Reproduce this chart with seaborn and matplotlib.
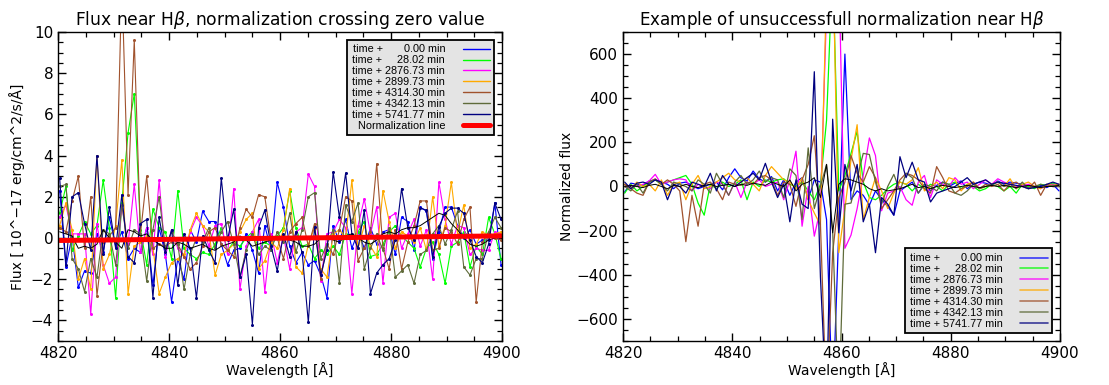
import numpy as np
import pandas as pd
import matplotlib
matplotlib.use("Agg")
import matplotlib.pyplot as plt
from matplotlib.lines import Line2D
from matplotlib.ticker import MultipleLocator
from matplotlib.font_manager import FontProperties
import seaborn as sns

# Spectral sampling (SDSS-like grid, ~1.12 A per pixel)
WL_START = 4820.3
WL_STEP = 1.12
N_PIX = 72

# Observation epochs (minutes after first exposure)
epochs = [0.00, 28.02, 2876.73, 2899.73, 4314.30, 4342.13, 5741.77]
colors = ["#0000ff", "#00ff00", "#ff00ff", "#ffaa00", "#a0522d", "#5f6b3a", "#00007f"]

# ---- Flux near H-beta (10^-17 erg/cm^2/s/A) ----
flux_e0 = [2.3, -1.4, 0.1, -2.4, -1.6, -1.7, 0.2, -0.7, 1.0, -0.4,
           0.3, -1.0, -0.5, -0.7, 0.5, -2.3, 0.5, -0.8, -3.1, -1.0,
           -2.0, 0.4, -0.2, 1.3, 0.8, 0.8, -0.3, -1.3, -0.6, -0.5,
           0.2, -0.6, -1.7, 0.6, -0.6, 2.7, 1.5, -0.4, -1.2, -0.7,
           -1.3, -1.1, -1.8, -2.9, 0.6, -0.2, 0.9, -0.5, 0.3, -0.5,
           0.5, -0.3, 0.3, 0.4, -0.8, 1.0, 0.8, -0.6, 1.5, 1.3,
           -1.0, 0.3, 1.5, 1.5, 0.6, 0.0, 0.4, -0.3, -0.1, -0.1,
           1.7, -1.3]
flux_e1 = [1.2, 2.5, -0.6, 0.1, 0.8, 0.2, 0.6, 2.8, 0.5, -2.9,
           1.7, 5.1, 7.0, 0.4, -1.3, 1.4, 0.5, 0.3, -1.0, 2.3,
           -0.5, -0.8, -1.0, -0.7, -0.8, -0.3, 0.5, -0.6, -0.2, -0.4,
           0.0, 0.3, -0.5, -0.2, -0.4, 0.1, 0.5, 2.3, 0.5, -0.4,
           -0.3, -1.0, -0.6, -0.8, -0.4, -0.8, 0.2, 0.0, 0.3, 0.8,
           -0.9, -0.8, -0.3, 0.3, 0.6, 0.1, -0.2, -0.5, -1.4, -0.5,
           -0.2, -0.8, -2.2, -0.4, -0.2, 0.3, -1.4, -0.4, -0.8, 1.0,
           0.2, -1.0]
flux_e2 = [1.0, 1.6, 0.2, 0.2, 0.2, -3.7, 0.7, -1.3, -2.2, -1.9,
           1.6, -0.3, 2.6, -0.7, 0.5, -0.8, 2.8, -0.9, 0.4, -0.5,
           -0.9, 0.3, 1.0, 0.6, -0.4, 0.6, 0.7, -0.8, 2.4, -2.5,
           -0.4, 0.3, 0.9, -2.6, 0.2, -1.2, 0.1, -1.5, 0.3, 0.5,
           3.1, 2.5, -2.1, 0.2, 0.3, 0.9, 0.5, -2.7, 0.6, 1.9,
           0.2, 1.5, -2.2, 1.0, 1.2, -0.5, 0.2, 0.9, -0.4, 0.4,
           -2.0, 2.7, 0.9, -0.3, 0.6, 0.5, -0.8, -0.5, -0.6, -0.6,
           0.3, 0.2]
flux_e3 = [0.6, 1.7, 0.4, -2.0, -1.0, -2.5, 4.0, -1.5, -0.8, 0.6,
           3.8, -2.7, -0.4, -0.2, 0.1, -0.5, -2.7, -1.9, -1.2, -1.0,
           -0.8, 0.4, 1.2, 0.6, 0.3, -1.8, -0.8, -0.6, -0.3, 0.3,
           0.9, 1.2, -1.5, -1.1, -0.2, -0.5, 0.4, 2.4, -1.4, -1.7,
           -0.3, 0.5, -1.5, -1.9, 0.2, 0.4, 0.0, 2.8, -0.5, 0.6,
           -0.4, -0.9, 2.3, 0.8, -0.5, 0.3, 0.1, -0.2, 0.5, -0.6,
           2.0, -0.4, 0.6, 2.7, 0.2, 1.6, -0.5, -0.3, 0.3, 0.1,
           0.2, 0.3]
flux_e4 = [0.5, 0.3, 1.8, 3.0, -0.5, 2.0, -2.8, -0.2, 0.1, 0.5,
           12.5, 2.1, 9.6, 0.2, 3.0, -0.5, -0.3, -0.4, -0.2, -0.3,
           -0.9, -1.5, -1.2, -0.4, 0.3, 0.5, -0.3, -0.6, -0.9, 0.5,
           1.4, 1.0, 2.1, 2.0, -0.1, 0.0, -1.0, 0.3, 0.7, 1.0,
           -0.4, 0.7, -2.0, -0.3, -0.8, 0.4, 2.0, 1.8, -1.1, -0.5,
           0.3, 3.6, -0.5, -1.5, 0.4, -1.5, -0.2, 0.6, 1.8, 1.8,
           -0.6, -0.5, 0.5, 0.3, -0.3, 0.9, 1.5, -3.1, -0.2, 0.3,
           0.0, -0.1]
flux_e5 = [2.5, 2.6, -1.0, -1.5, -2.6, -1.0, -1.9, 0.4, 0.2, -1.3,
           1.6, -0.5, 0.4, 0.2, -2.1, 0.4, 2.0, -0.5, 0.3, -0.3,
           -2.5, -0.8, 0.0, -0.2, 0.5, -0.5, 0.3, 0.8, -0.3, -1.9,
           -0.6, 0.2, -0.8, -0.4, -0.6, 0.3, -0.2, 1.2, -0.7, 0.4,
           2.0, 2.2, -1.0, -0.3, 0.4, -2.2, 1.6, 0.8, 1.7, -1.5,
           -0.5, 0.2, -0.6, 0.5, -1.9, -1.6, -1.3, -2.2, -0.8, -0.6,
           0.2, 0.6, -0.3, 0.4, 1.3, -1.4, -1.8, -1.0, -1.0, 0.3,
           1.0, 0.5]
flux_e6 = [2.9, -1.3, 2.0, 2.2, 0.7, -0.6, 4.0, -0.8, 1.5, -0.5,
           2.1, -0.9, -1.2, 0.7, 0.9, -2.9, 1.0, -0.7, 0.4, -2.3,
           0.2, -0.5, -2.9, 0.1, -0.6, -1.2, 2.9, -0.1, 1.4, -1.9,
           -0.8, -4.2, 0.5, 1.35, -0.4, -1.6, 0.2, -0.9, 0.3, -0.7,
           -4.1, 0.55, -1.8, -0.6, 3.2, 1.0, 3.15, 0.2, -0.5, 1.35,
           -2.7, -1.7, -1.3, -1.0, -0.1, 2.4, 0.5, -0.1, 1.45, 1.35,
           -0.9, 0.55, 1.2, 1.45, 1.45, 1.2, -0.1, -0.9, -1.2, -0.3,
           1.7, 0.9]
flux_mean = [0.3, 0.2, 0.1, -0.5, -0.4, -0.5, -0.3, 0.4, 0.0, -0.2,
             -0.5, 0.4, 0.3, 0.1, 0.2, -0.1, -0.3, -0.5, -0.5, -0.2,
             -0.3, -0.5, -0.4, -0.3, -0.5, -0.6, -0.4, -0.3, -0.2, 0.1,
             -0.1, -0.4, -0.3, -0.2, -0.1, 0.0, 0.1, -0.1, -0.2, -0.4,
             -0.4, -0.3, 0.0, 0.1, -0.1, -0.2, 0.1, 0.2, 0.0, -0.2,
             -0.3, -0.1, 0.2, 0.3, 0.2, 0.4, 0.5, 0.5, 0.6, 0.8,
             1.0, 1.2, 1.1, 0.7, 0.4, 0.0, -0.3, -0.4, -0.3, -0.1,
             0.0, 0.1]
# Normalization line end points
norm_wl = [4820.3, 4899.8]
norm_flux = [-0.12, 0.10]

# ---- Normalized flux near H-beta ----
norm_e0 = [-25, 15, 10, 5, 25, 30, 20, 10, -10, 15,
           20, 5, -10, 0, 10, 20, -15, 40, 80, 40,
           25, 70, 35, 20, 45, -20, 30, -40, 20, 40,
           -60, 30, 20, -150, -1000, -200, 600, -60, -20, -40,
           -85, -20, -60, -90, -130, -20, 0, 20, -30, 10,
           -20, 5, 20, 0, 15, 25, -10, 10, 20, 15,
           5, 25, 10, 20, 15, 10, -5, 0, 5, -5,
           10, -20]
norm_e1 = [-30, 10, -20, 0, 20, 30, 10, 20, 30, 40,
           50, 10, -75, -130, 10, -10, 20, 0, 10, 30,
           -60, 20, 0, 30, 20, 30, 35, 10, 0, 20,
           -20, -60, 10, 300, 1000, -20, 50, 150, 250, 20,
           -50, -60, -40, -10, 10, 20, 10, -20, 10, -10,
           10, 0, -20, 10, 20, -10, 10, 0, -20, -10,
           10, 0, -20, 0, -30, 10, 0, -10, 10, 5,
           15, 5]
norm_e2 = [0, 5, 0, 10, 25, 55, 10, 20, 30, 35,
           30, -20, 10, 0, -10, 20, 10, -40, 20, -50,
           20, 10, 30, 0, 10, 20, -60, 30, 160, -180,
           0, -225, -100, 800, 1200, 1000, -280, -220, -100, 50,
           220, 140, -110, -30, -20, 0, -60, -85, 20, 50,
           -50, 30, 10, 0, 40, 10, 20, -10, 10, 30,
           10, 35, 20, 10, 0, 5, 10, 0, -10, 5,
           10, 0]
norm_e3 = [10, -10, 20, 0, 10, -20, 30, -40, 10, 20,
           -60, 10, 50, -10, 0, 20, 40, 60, 30, 20,
           40, 10, -20, 50, 90, 60, 30, 20, -10, 40,
           -60, -120, -175, 900, 1100, -300, -100, 120, 280, -150,
           -50, 40, -20, -100, -30, 20, 10, 30, 85, -20,
           0, 20, -10, 40, 30, -20, 10, 20, -10, 0,
           10, 20, 0, 35, -10, 10, 20, 0, -10, 10,
           5, 10]
norm_e4 = [10, -10, -30, -40, 20, 35, 10, 30, 10, -20,
           -250, -40, -180, 10, 20, -10, -60, 20, 10, 5,
           20, 10, 40, 50, 30, -40, 20, 10, -90, 30,
           100, 230, -170, -1000, -300, -50, 20, 140, 60, 20,
           90, 40, -100, -60, -20, 30, 60, 50, 30, -10,
           -30, 90, 40, -20, -30, -10, 0, 20, -10, 10,
           0, 10, -20, 10, 20, 0, -10, 20, -40, 10,
           0, 10]
norm_e5 = [0, -20, 10, -30, 20, 30, 10, -20, 20, 10,
           0, -20, 30, 10, -30, 60, 10, -40, 20, 50,
           10, 30, 70, 20, 40, 30, -50, 80, 50, -150,
           175, -100, 0, 100, -200, -1000, -80, -75, 40, 150,
           145, 20, -80, 0, 55, -20, 60, 40, -30, 10,
           0, -20, 20, 10, -30, -40, -20, 10, -10, 0,
           10, 20, 0, 10, -10, 20, -10, 0, 10, 0,
           5, 0]
norm_e6 = [20, -10, 15, 20, 10, 30, 20, -60, 10, 0,
           -30, 20, 10, 0, 60, -20, 50, 10, 0, 20,
           40, 60, 30, 105, 20, -50, 10, -160, 30, -80,
           -100, 520, -410, -1000, 305, -210, 100, -20, 100, -160,
           -80, -300, -50, -80, -130, 135, 40, 110, 30, 20,
           -70, -30, -20, -10, 0, 20, 40, 10, 20, 30,
           10, 20, 15, 10, 5, 0, -10, -5, 0, 10,
           20, 10]
norm_mean = [0, 5, 0, -5, 5, 10, 0, -10, 5, 0,
             10, 0, -5, 5, 10, 0, 5, 10, 0, 10,
             5, 15, 10, 5, 20, 10, 0, 30, -20, 10,
             20, 40, -50, 100, -210, 10, 35, 30, 20, 10,
             -10, -20, -10, -20, -15, -10, 0, 10, -5, 0,
             -10, 0, 5, 0, -5, 0, 5, 0, -5, 0,
             5, 0, 5, 0, -5, 0, 5, 0, -5, 0,
             0, 5]

wl = WL_START + WL_STEP * np.arange(N_PIX)
labels = ["time + " + f"{e:7.2f}".replace(" ", "\u2007") + " min" for e in epochs]
palette = dict(zip(labels, colors))

flux_series = [flux_e0, flux_e1, flux_e2, flux_e3, flux_e4, flux_e5, flux_e6]
norm_series = [norm_e0, norm_e1, norm_e2, norm_e3, norm_e4, norm_e5, norm_e6]


def long_frame(series):
    return pd.concat(
        [pd.DataFrame({"wl": wl, "val": s, "epoch": lab}) for s, lab in zip(series, labels)],
        ignore_index=True,
    )


sns.set_theme(style="ticks")
plt.rcParams.update({
    "font.family": ["DejaVu Sans"],
    "mathtext.fontset": "dejavusans",
    "axes.edgecolor": "black",
    "axes.linewidth": 1.0,
    "xtick.direction": "in",
    "ytick.direction": "in",
    "xtick.top": True,
    "ytick.right": True,
    "xtick.major.size": 6,
    "ytick.major.size": 6,
    "xtick.minor.size": 3.5,
    "ytick.minor.size": 3.5,
    "xtick.major.width": 1.0,
    "ytick.major.width": 1.0,
    "xtick.minor.width": 0.9,
    "ytick.minor.width": 0.9,
    "xtick.labelsize": 11,
    "ytick.labelsize": 11,
    "xtick.color": "black",
    "ytick.color": "black",
    "axes.labelcolor": "black",
    "text.color": "black",
})

legend_font = FontProperties(family=["Liberation Sans", "DejaVu Sans"], size=7.8)
legend_kw = dict(markerfirst=False, prop=legend_font, handlelength=2.5,
                 handletextpad=1.6, labelspacing=0.08, borderpad=0.45,
                 borderaxespad=0.7, fancybox=False, framealpha=1)

fig = plt.figure(figsize=(11.09, 3.85), dpi=100)
ax1 = fig.add_axes([0.0523, 0.1143, 0.4004, 0.8026])
ax2 = fig.add_axes([0.5618, 0.1143, 0.3940, 0.8026])

# Left panel: raw flux with point markers
sns.lineplot(data=long_frame(flux_series), x="wl", y="val", hue="epoch",
             hue_order=labels, palette=palette, estimator=None, sort=False,
             marker="o", markersize=2.2, markeredgewidth=0, linewidth=0.8,
             legend=False, ax=ax1)
sns.lineplot(x=wl, y=flux_mean, color="black", linewidth=0.7, ax=ax1)
sns.lineplot(x=norm_wl, y=norm_flux, color="red", linewidth=3.6, ax=ax1)

ax1.set_xlim(4820, 4900)
ax1.set_ylim(-5, 10)
ax1.xaxis.set_major_locator(MultipleLocator(20))
ax1.xaxis.set_minor_locator(MultipleLocator(5))
ax1.yaxis.set_major_locator(MultipleLocator(2))
ax1.yaxis.set_minor_locator(MultipleLocator(0.5))
ax1.set_title(r"Flux near H$\beta$, normalization crossing zero value", fontsize=12.3, pad=5)
ax1.set_xlabel("Wavelength [Å]", fontsize=10, labelpad=1)
ax1.set_ylabel("Flux [ 10^\u221217 erg/cm^2/s/Å]", fontsize=10, labelpad=4)

handles1 = [Line2D([], [], color=c, lw=1.0) for c in colors]
handles1.append(Line2D([], [], color="red", lw=3.6))
leg1 = ax1.legend(handles1, labels + ["Normalization line"], loc="upper right", **legend_kw)
leg1.get_frame().set_facecolor("#e4e4e4")
leg1.get_frame().set_edgecolor("black")
leg1.get_frame().set_linewidth(1.3)

# Right panel: normalized flux
sns.lineplot(data=long_frame(norm_series), x="wl", y="val", hue="epoch",
             hue_order=labels, palette=palette, estimator=None, sort=False,
             linewidth=0.9, legend=False, ax=ax2)
sns.lineplot(x=wl, y=norm_mean, color="black", linewidth=0.7, ax=ax2)

ax2.set_xlim(4820, 4900)
ax2.set_ylim(-700, 700)
ax2.xaxis.set_major_locator(MultipleLocator(20))
ax2.xaxis.set_minor_locator(MultipleLocator(5))
ax2.yaxis.set_major_locator(MultipleLocator(200))
ax2.yaxis.set_minor_locator(MultipleLocator(50))
ax2.set_title(r"Example of unsuccessfull normalization near H$\beta$", fontsize=12.1, pad=5)
ax2.set_xlabel("Wavelength [Å]", fontsize=10, labelpad=1)
ax2.set_ylabel("Normalized flux", fontsize=10, labelpad=2)

handles2 = [Line2D([], [], color=c, lw=1.2, alpha=0.75) for c in colors]
leg2 = ax2.legend(handles2, labels, loc="lower right", **legend_kw)
leg2.get_frame().set_facecolor("#e4e4e4")
leg2.get_frame().set_edgecolor("black")
leg2.get_frame().set_linewidth(1.3)

for ax in (ax1, ax2):
    for sp in ax.spines.values():
        sp.set_visible(True)
        sp.set_color("black")

fig.savefig("out.png", dpi=100)
